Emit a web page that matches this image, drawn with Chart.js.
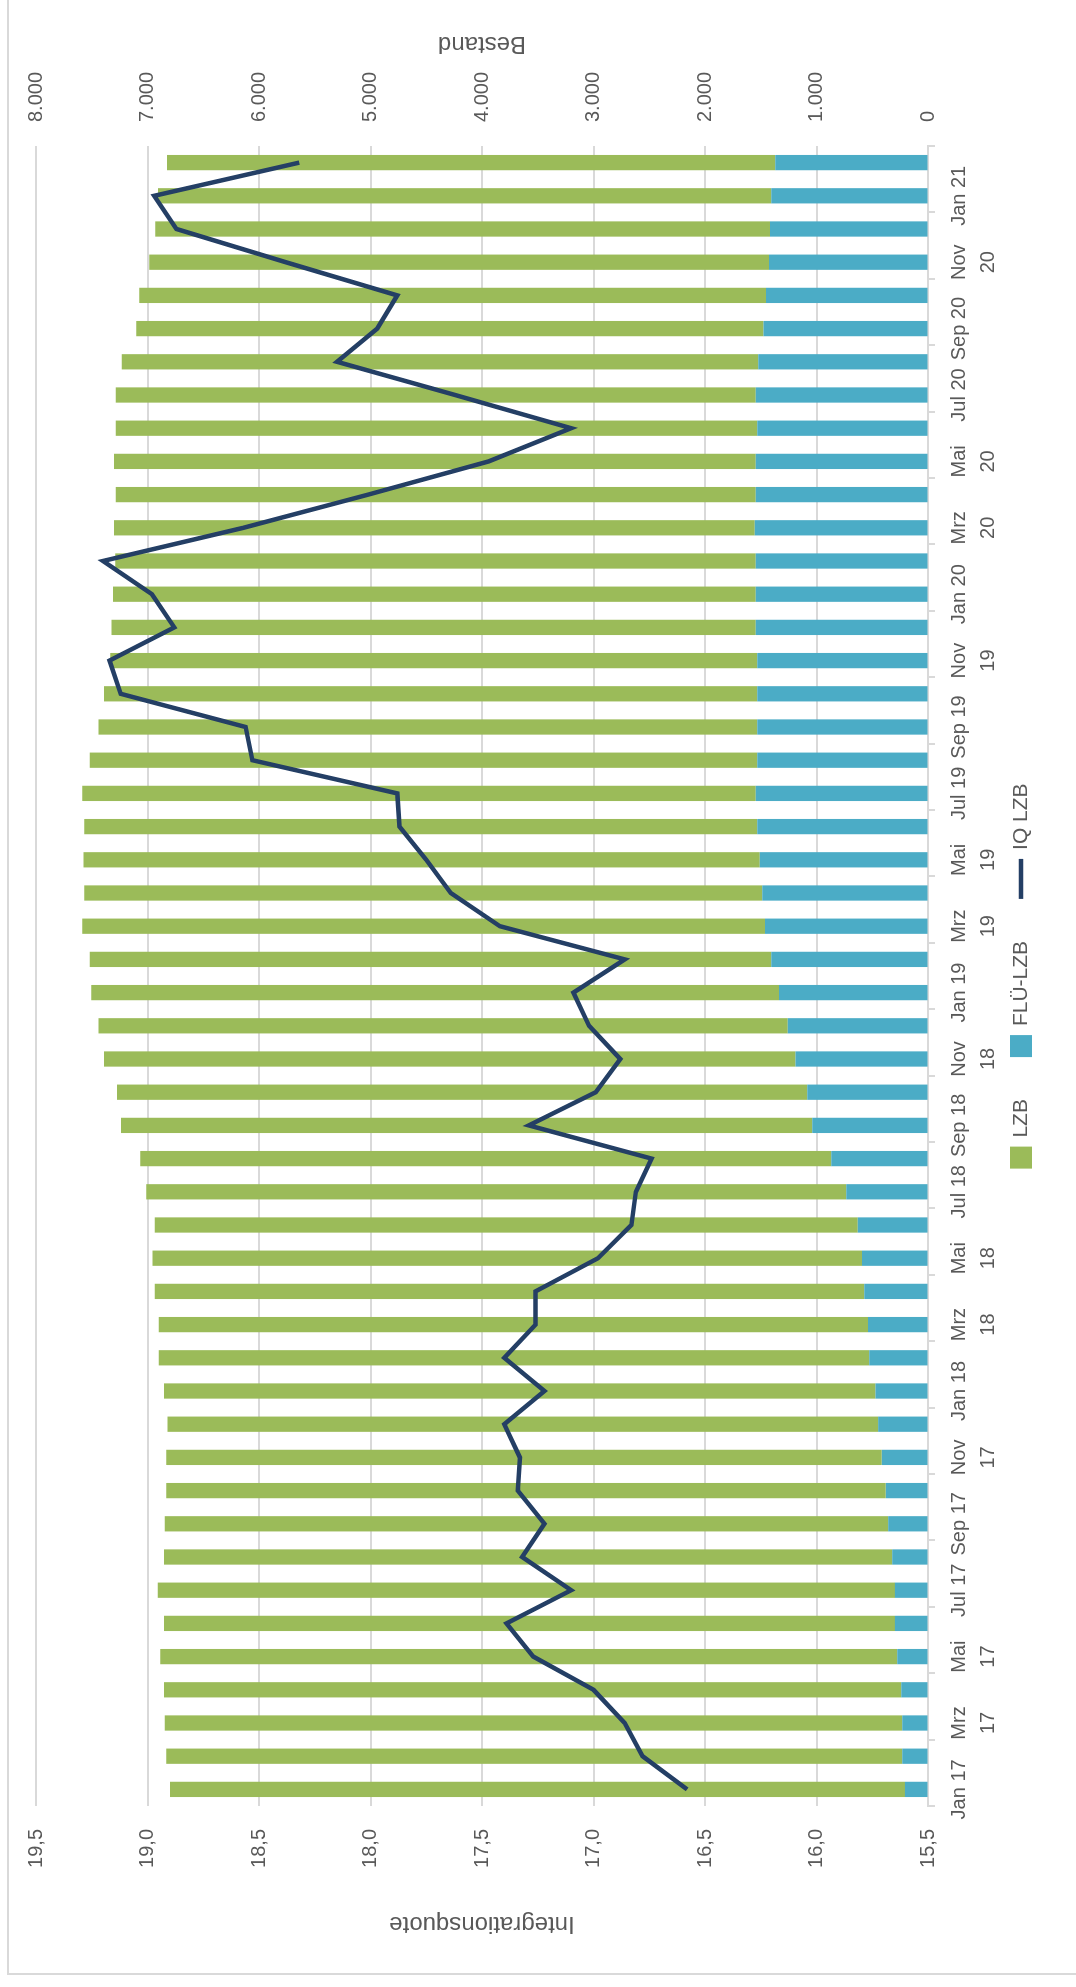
<!DOCTYPE html>
<html>
<head>
<meta charset="utf-8">
<script src="https://cdn.jsdelivr.net/npm/chart.js@4.4.0/dist/chart.umd.min.js"></script>
<style>
  html, body { margin: 0; padding: 0; background: #fff; overflow: hidden; }
  /* chart is drawn landscape, then turned a quarter left like the reference */
  #wrap {
    position: absolute; left: 0; top: 0;
    width: 1987px; height: 1076px;
    transform-origin: 0 0;
    transform: translateY(1987px) rotate(-90deg);
  }
</style>
</head>
<body>
<div id="wrap"><canvas id="chart" width="1987" height="1076"></canvas></div>
<script>
const months = [
  'Jan 17','Feb 17','Mrz 17','Apr 17','Mai 17','Jun 17','Jul 17','Aug 17','Sep 17','Okt 17','Nov 17','Dez 17',
  'Jan 18','Feb 18','Mrz 18','Apr 18','Mai 18','Jun 18','Jul 18','Aug 18','Sep 18','Okt 18','Nov 18','Dez 18',
  'Jan 19','Feb 19','Mrz 19','Apr 19','Mai 19','Jun 19','Jul 19','Aug 19','Sep 19','Okt 19','Nov 19','Dez 19',
  'Jan 20','Feb 20','Mrz 20','Apr 20','Mai 20','Jun 20','Jul 20','Aug 20','Sep 20','Okt 20','Nov 20','Dez 20',
  'Jan 21','Feb 21'
];
// these month labels wrap onto two lines in the original
const wrapped = ['Mrz', 'Mai', 'Nov'];

const lzb = [
  6591, 6600, 6615, 6613, 6610, 6556, 6611, 6532, 6489, 6453,
  6417, 6374, 6382, 6373, 6361, 6362, 6363, 6305, 6277, 6197,
  6199, 6191, 6203, 6182, 6168, 6113, 6123, 6080, 6066, 6035,
  6042, 5987, 5907, 5859, 5803, 5778, 5766, 5746, 5747, 5741,
  5756, 5753, 5741, 5707, 5626, 5620, 5558, 5513, 5499, 5456
];
const fluLzb = [
  207, 231, 231, 240, 276, 297, 297, 321, 357, 378,
  414, 447, 471, 527, 539, 572, 593, 629, 734, 868,
  1039, 1083, 1188, 1257, 1337, 1406, 1463, 1487, 1508, 1532,
  1544, 1532, 1532, 1532, 1532, 1544, 1544, 1544, 1553, 1544,
  1544, 1532, 1544, 1523, 1475, 1454, 1427, 1418, 1406, 1370
];
const iqLzb = [
  16.58, 16.78, 16.86, 17.00, 17.27, 17.39, 17.10, 17.32, 17.22, 17.34,
  17.33, 17.40, 17.22, 17.40, 17.26, 17.26, 16.98, 16.83, 16.81, 16.74,
  17.29, 16.99, 16.88, 17.02, 17.09, 16.86, 17.42, 17.64, 17.75, 17.87,
  17.88, 18.53, 18.56, 19.12, 19.17, 18.88, 18.98, 19.20, 18.57, 18.01,
  17.47, 17.10, 17.62, 18.15, 17.97, 17.88, 18.38, 18.87, 18.97, 18.32
];

const grey = '#595959';
const gridGrey = '#d9d9d9';
const fam = "'Liberation Sans', Arial, sans-serif";

function dotThousands(v) {
  return String(v).replace(/\B(?=(\d{3})+(?!\d))/g, '.');
}

// background, frame, right title and the legend row
const extras = {
  id: 'extras',
  beforeDraw(chart) {
    const c = chart.ctx;
    c.save();
    c.fillStyle = '#fff';
    c.fillRect(0, 0, chart.width, chart.height);
    c.strokeStyle = gridGrey;
    c.lineWidth = 2;
    c.strokeRect(13, 8, chart.width + 20, chart.height + 20);
    c.restore();
  },
  afterDraw(chart) {
    const area = chart.chartArea;
    const c = chart.ctx;
    c.save();

    // Chart.js turns a right-side title the other way, so draw it here
    c.translate(chart.scales.y1.right - 44, (area.top + area.bottom) / 2);
    c.rotate(-Math.PI / 2);
    c.fillStyle = grey;
    c.font = '24px ' + fam;
    c.textAlign = 'center';
    c.textBaseline = 'middle';
    c.fillText('Bestand', 0, 0);
    c.setTransform(1, 0, 0, 1, 0, 0);

    // legend: LZB, FLÜ-LZB, IQ LZB
    c.font = '21px ' + fam;
    c.textAlign = 'left';
    const box = 22, lineLen = 40, gapKey = 9, gapItem = 42, cy = 1021;
    const items = chart.data.datasets.slice().reverse().map(ds => ({
      text: ds.label,
      line: ds.type === 'line',
      color: ds.type === 'line' ? ds.borderColor : ds.backgroundColor,
      w: (ds.type === 'line' ? lineLen : box) + gapKey + c.measureText(ds.label).width
    }));
    let total = items.reduce((s, it) => s + it.w, 0) + gapItem * (items.length - 1);
    let x = (area.left + area.right) / 2 - total / 2;
    items.forEach(it => {
      if (it.line) {
        c.strokeStyle = it.color;
        c.lineWidth = 4.5;
        c.beginPath();
        c.moveTo(x, cy);
        c.lineTo(x + lineLen, cy);
        c.stroke();
        x += lineLen;
      } else {
        c.fillStyle = it.color;
        c.fillRect(x, cy - box / 2, box, box);
        x += box;
      }
      x += gapKey;
      c.fillStyle = grey;
      c.fillText(it.text, x, cy);
      x += c.measureText(it.text).width + gapItem;
    });
    c.restore();
  }
};

new Chart(document.getElementById('chart'), {
  type: 'bar',
  data: {
    labels: months,
    datasets: [
      {
        type: 'line',
        label: 'IQ LZB',
        data: iqLzb,
        yAxisID: 'y',
        borderColor: '#243f65',
        backgroundColor: '#243f65',
        borderWidth: 4.5,
        pointRadius: 0,
        tension: 0,
        order: 0
      },
      {
        label: 'FLÜ-LZB',
        data: fluLzb,
        yAxisID: 'y1',
        backgroundColor: '#4bacc6',
        order: 1
      },
      {
        label: 'LZB',
        data: lzb,
        yAxisID: 'y1',
        backgroundColor: '#9bbb59',
        order: 1
      }
    ]
  },
  options: {
    responsive: false,
    animation: false,
    devicePixelRatio: 1,
    layout: { padding: { top: 36, left: 0, right: 0, bottom: 68 } },
    datasets: { bar: { categoryPercentage: 1, barPercentage: 0.46 } },
    plugins: {
      legend: { display: false },
      tooltip: { enabled: false }
    },
    scales: {
      x: {
        stacked: true,
        border: { color: gridGrey, width: 2 },
        grid: {
          offset: true,
          drawOnChartArea: false,
          tickLength: 7,
          lineWidth: 2,
          tickColor: c => (c.index === undefined || c.index % 2 === 0) ? gridGrey : 'rgba(0,0,0,0)'
        },
        ticks: {
          autoSkip: false,
          maxRotation: 0,
          minRotation: 0,
          padding: 10,
          color: grey,
          font: { family: fam, size: 20, lineHeight: 1.45 },
          callback: function (v, i) {
            if (i % 2) return '';
            const parts = months[i].split(' ');
            return wrapped.includes(parts[0]) ? parts : months[i];
          }
        },
        afterFit(s) { s.height = 80; }
      },
      y: {
        position: 'left',
        min: 15.5,
        max: 19.5,
        ticks: {
          stepSize: 0.5,
          padding: 23,
          color: grey,
          font: { family: fam, size: 20 },
          callback: v => Number(v).toFixed(1).replace('.', ',')
        },
        grid: { color: gridGrey, lineWidth: 2, drawTicks: false },
        border: { display: false },
        title: {
          display: true,
          text: 'Integrationsquote',
          color: grey,
          font: { family: fam, size: 24 },
          padding: { top: 49, bottom: 0 }
        },
        afterFit(s) { s.width = 181; }
      },
      y1: {
        position: 'right',
        stacked: true,
        min: 0,
        max: 8000,
        ticks: {
          stepSize: 1000,
          padding: 24,
          color: grey,
          font: { family: fam, size: 20 },
          callback: v => dotThousands(v)
        },
        grid: { drawOnChartArea: false, drawTicks: false },
        border: { display: false },
        afterFit(s) { s.width = 146; }
      }
    }
  },
  plugins: [extras]
});
</script>
</body>
</html>
